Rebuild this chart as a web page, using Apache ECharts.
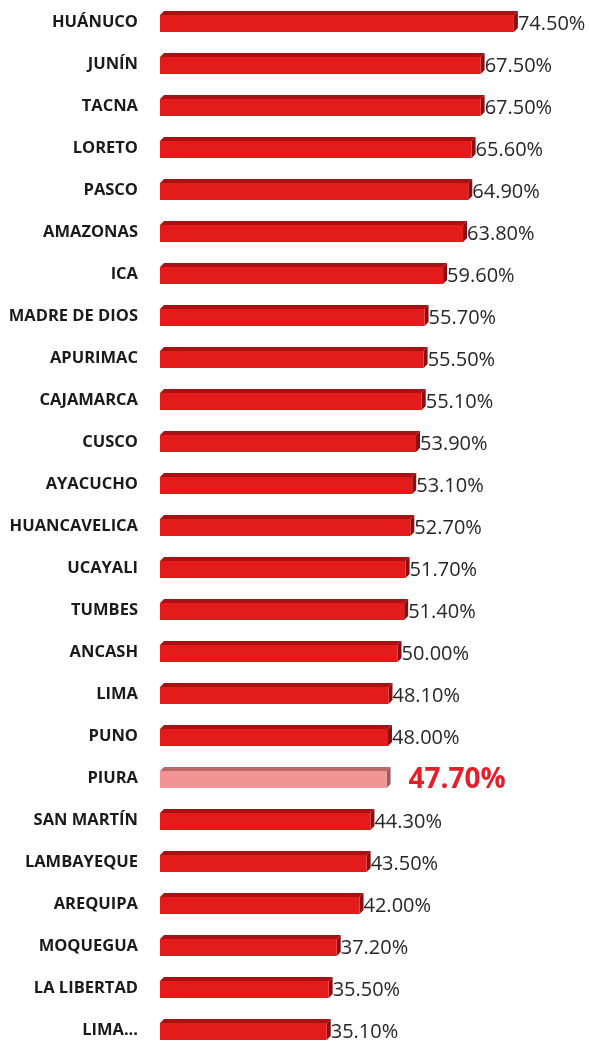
<!DOCTYPE html>
<html>
<head>
<meta charset="utf-8">
<script src="https://cdn.jsdelivr.net/npm/echarts@6/dist/echarts.min.js"></script>
<style>
  html, body { margin: 0; padding: 0; background: #fff; }
  #chart { width: 589px; height: 1051px; }
</style>
</head>
<body>
<div id="chart"></div>
<script>
  let regiones = ['HUÁNUCO', 'JUNÍN', 'TACNA', 'LORETO', 'PASCO', 'AMAZONAS', 'ICA', 'MADRE DE DIOS',
    'APURIMAC', 'CAJAMARCA', 'CUSCO', 'AYACUCHO', 'HUANCAVELICA', 'UCAYALI', 'TUMBES', 'ANCASH',
    'LIMA', 'PUNO', 'PIURA', 'SAN MARTÍN', 'LAMBAYEQUE', 'AREQUIPA', 'MOQUEGUA', 'LA LIBERTAD', 'LIMA...']
  let valores = [74.5, 67.5, 67.5, 65.6, 64.9, 63.8, 59.6, 55.7,
    55.5, 55.1, 53.9, 53.1, 52.7, 51.7, 51.4, 50.0,
    48.1, 48.0, 47.7, 44.3, 43.5, 42.0, 37.2, 35.5, 35.1]
  let destacada = 'PIURA'

  let myChart = echarts.init(document.getElementById('chart'))

  let data = valores.map((v, i) => [i, v])

  function renderBar (params, api) {
    let idx = api.value(0)
    let v = api.value(1)
    let p0 = api.coord([0, idx])
    let p1 = api.coord([v, idx])
    let x0 = p0[0]
    let x1 = p1[0]
    let c = p0[1]
    let hl = regiones[idx] === destacada
    let front = hl ? '#f29494' : '#e31b1b'
    let top = hl ? '#b86a6a' : '#a81212'
    let side = hl ? '#9e5a5a' : '#8c0d0d'
    let yt = c - 7
    let yb = c + 10
    let d = 4
    return {
      type: 'group',
      children: [
        {
          type: 'polygon',
          shape: { points: [[x0, yt], [x0 + d, yt - d], [x1 + d, yt - d], [x1, yt]] },
          style: { fill: top }
        },
        {
          type: 'polygon',
          shape: { points: [[x1, yt], [x1 + d, yt - d], [x1 + d, yb - d], [x1, yb]] },
          style: { fill: side }
        },
        {
          type: 'rect',
          shape: { x: x0, y: yt, width: x1 - x0, height: yb - yt },
          style: { fill: front }
        },
        {
          type: 'text',
          x: hl ? x1 + 22 : x1 + d,
          y: c + 2,
          style: {
            text: v.toFixed(2) + '%',
            fill: hl ? '#e3202a' : '#262626',
            font: hl ? 'bold 28px "Open Sans"' : '20px "Open Sans"',
            verticalAlign: 'middle',
            align: 'left'
          }
        }
      ]
    }
  }

  let option = {
    animation: false,
    backgroundColor: '#fff',
    grid: { left: 160, right: 49, top: 1, height: 1060 },
    xAxis: {
      type: 'value',
      min: 0,
      max: 80,
      show: false
    },
    yAxis: {
      type: 'category',
      data: regiones,
      inverse: true,
      axisLine: { show: false },
      axisTick: { show: false },
      axisLabel: {
        margin: 22,
        color: '#1a1a1a',
        fontFamily: 'Open Sans',
        fontWeight: 'bold',
        fontSize: 16.5,
        padding: [6, 0, 0, 0]
      }
    },
    series: [
      {
        type: 'custom',
        renderItem: renderBar,
        encode: { x: 1, y: 0 },
        data: data
      }
    ]
  }
  myChart.setOption(option)
</script>
</body>
</html>
